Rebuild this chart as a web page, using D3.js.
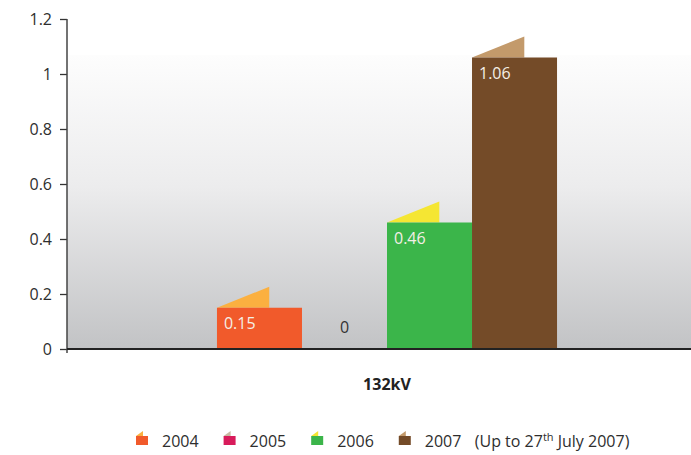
<!DOCTYPE html>
<html>
<head>
<meta charset="utf-8">
<script src="https://cdn.jsdelivr.net/npm/d3@7"></script>
<style>
  html, body { margin: 0; padding: 0; background: #fff; }
  svg { display: block; }
  text { font-family: "Open Sans", Lato, sans-serif; }
</style>
</head>
<body>
<svg id="chart" width="691" height="455"></svg>
<script>
// ---- data ----
const categories = ["132kV"];
const years = ["2004", "2005", "2006", "2007"];
const values = [0.15, 0, 0.46, 1.06];
const valueLabels = ["0.15", "0", "0.46", "1.06"];
const yTicks = [0, 0.2, 0.4, 0.6, 0.8, 1, 1.2];
const barColors = ["#f15a2b", "#d81b5b", "#3bb54a", "#744b28"];
const flapColors = ["#fbb040", "#c9b9a3", "#f5e633", "#c39a6b"];
const legendNames = ["2004", "2005", "2006", "2007"];

// ---- layout ----
const svg = d3.select("#chart");
const plotLeft = 67, plotRight = 691, plotTop = 19, plotBottom = 349;

const y = d3.scaleLinear().domain([0, 1.2]).range([plotBottom, plotTop]);
const x0 = d3.scaleBand().domain(categories).range([67, 707]).paddingOuter(0.441).paddingInner(0);
const x1 = d3.scaleBand().domain(years).range([0, x0.bandwidth()]).padding(0);

// background gradient
const defs = svg.append("defs");
const grad = defs.append("linearGradient").attr("id", "bg").attr("x1", 0).attr("y1", 0).attr("x2", 0).attr("y2", 1);
grad.append("stop").attr("offset", "0%").attr("stop-color", "#fdfdfd");
grad.append("stop").attr("offset", "45%").attr("stop-color", "#ececed");
grad.append("stop").attr("offset", "100%").attr("stop-color", "#c2c3c5");
svg.append("rect")
  .attr("x", plotLeft).attr("y", 55)
  .attr("width", plotRight - plotLeft).attr("height", plotBottom - 55)
  .attr("fill", "url(#bg)");

// bars
const data = years.map((yr, i) => ({ year: yr, value: values[i], label: valueLabels[i], i }));
const g = svg.append("g").attr("transform", `translate(${x0(categories[0])},0)`);

const flapW = x1.bandwidth() * 0.615, flapH = 21;
g.selectAll("path.flap")
  .data(data.filter(d => d.value > 0))
  .join("path")
  .attr("class", "flap")
  .attr("fill", d => flapColors[d.i])
  .attr("d", d => {
    const xl = x1(d.year), yt = y(d.value);
    return `M${xl},${yt}L${xl + flapW},${yt - flapH}L${xl + flapW},${yt}Z`;
  });

g.selectAll("rect.bar")
  .data(data)
  .join("rect")
  .attr("class", "bar")
  .attr("x", d => x1(d.year))
  .attr("y", d => y(d.value))
  .attr("width", x1.bandwidth())
  .attr("height", d => plotBottom - y(d.value))
  .attr("fill", d => barColors[d.i]);

g.selectAll("text.val")
  .data(data)
  .join("text")
  .attr("class", "val")
  .attr("x", d => d.value > 0 ? x1(d.year) + 7 : x1(d.year) + x1.bandwidth() / 2)
  .attr("y", d => d.value > 0 ? y(d.value) + 21 : plotBottom - 16)
  .attr("text-anchor", d => d.value > 0 ? "start" : "middle")
  .attr("font-size", 16)
  .attr("fill", d => d.value > 0 ? "#f4efe6" : "#333")
  .text(d => d.label);

// y axis
const yAxis = d3.axisLeft(y).tickValues(yTicks).tickSize(7).tickPadding(8)
  .tickFormat(d => (d === 0 || d === 1) ? String(d) : d3.format(".1f")(d));
const ya = svg.append("g").attr("transform", `translate(${plotLeft},0)`).call(yAxis);
ya.select(".domain").remove();
ya.selectAll(".tick line").attr("stroke", "#333").attr("stroke-width", 1.3);
ya.selectAll(".tick text").attr("font-size", 16).attr("fill", "#2e2e2e")
  .attr("font-family", "'Open Sans', Lato, sans-serif");
svg.append("line").attr("x1", plotLeft).attr("x2", plotLeft).attr("y1", plotTop).attr("y2", plotBottom + 4)
  .attr("stroke", "#444").attr("stroke-width", 1.5);

// x axis
svg.append("line").attr("x1", plotLeft).attr("x2", plotRight).attr("y1", plotBottom).attr("y2", plotBottom)
  .attr("stroke", "#222").attr("stroke-width", 2);
svg.selectAll("text.cat").data(categories).join("text")
  .attr("class", "cat")
  .attr("x", d => x0(d) + x0.bandwidth() / 2)
  .attr("y", 390)
  .attr("text-anchor", "middle")
  .attr("font-size", 16).attr("font-weight", "bold").attr("fill", "#222")
  .text(d => d);

// legend
const legend = svg.append("g");
let lx = 136;
const ly = 436;
legendNames.forEach((name, i) => {
  const item = legend.append("g").attr("transform", `translate(${lx},0)`);
  item.append("path")
    .attr("d", `M0,${ly}L7,${ly - 5}L7,${ly}Z`)
    .attr("fill", flapColors[i]);
  item.append("rect").attr("x", 0).attr("y", ly).attr("width", 12).attr("height", 9)
    .attr("fill", barColors[i]);
  const t = item.append("text").attr("x", 26).attr("y", 447)
    .attr("font-size", 16).attr("fill", "#2e2e2e").text(name);
  if (i === legendNames.length - 1) {
    const t2 = item.append("text").attr("x", 76).attr("y", 447)
      .attr("font-size", 16).attr("fill", "#2e2e2e");
    t2.append("tspan").text("(Up to 27");
    t2.append("tspan").attr("font-size", 11).attr("dy", -6).text("th");
    t2.append("tspan").attr("dy", 6).text(" July 2007)");
  }
  const w = t.node().getComputedTextLength();
  lx += 26 + w + 25;
});
</script>
</body>
</html>
